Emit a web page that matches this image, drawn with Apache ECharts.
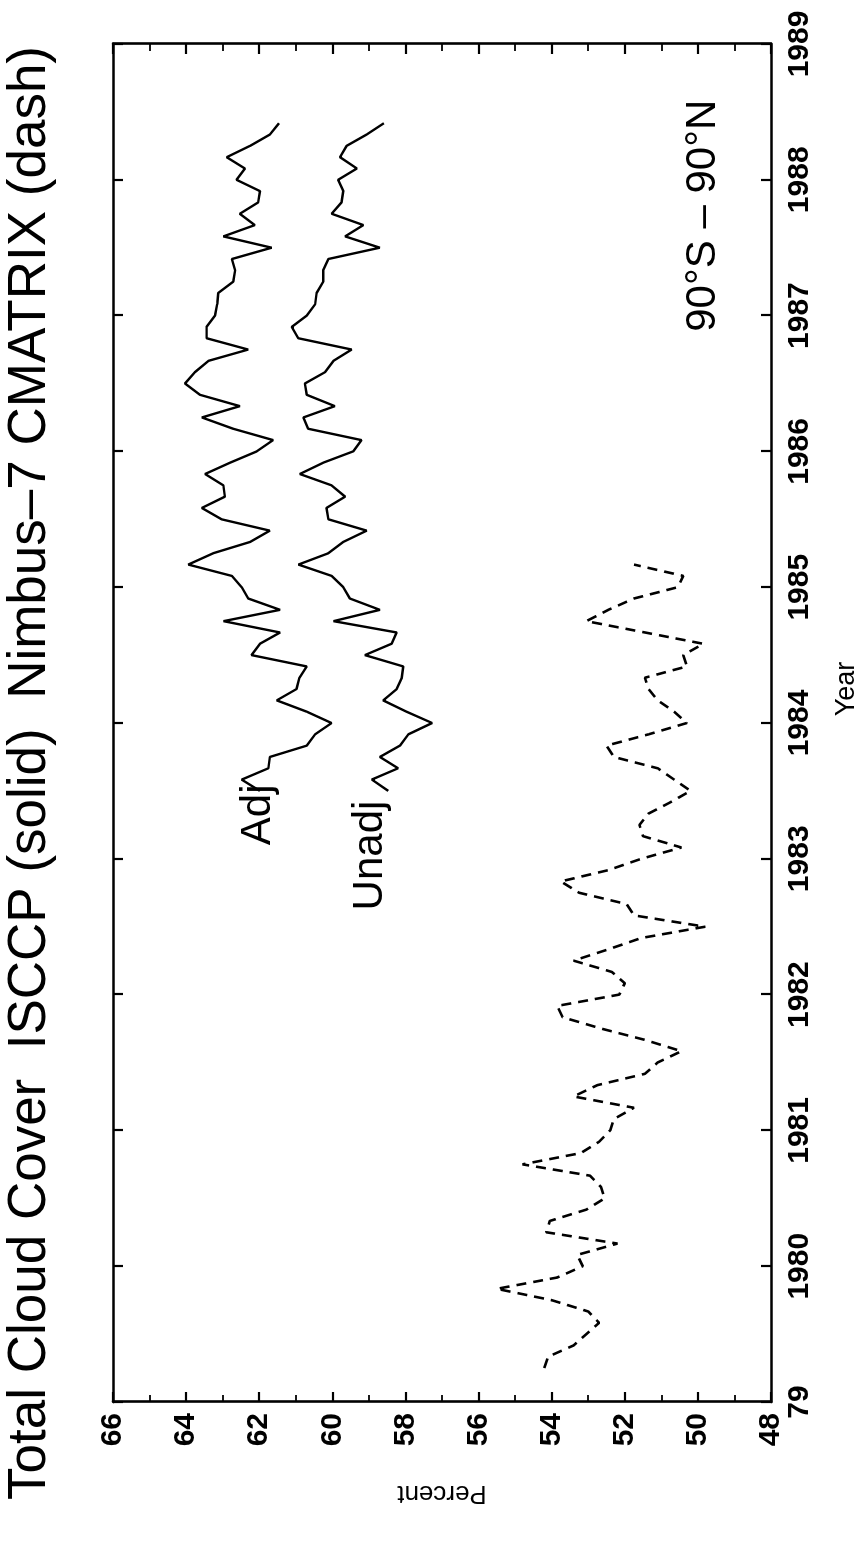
<!DOCTYPE html>
<html><head><meta charset="utf-8">
<script src="https://cdn.jsdelivr.net/npm/echarts@6/dist/echarts.min.js"></script>
<style>
html,body{margin:0;padding:0;width:867px;height:1545px;overflow:hidden;background:#fff;}
#chart{position:absolute;left:0;top:0;width:1545px;height:867px;transform-origin:0 0;transform:translate(0px,1545px) rotate(-90deg);}
</style></head><body><div id="chart"></div>
<script>
// ---- tick labels ----
const yearTicks = [1979,1980,1981,1982,1983,1984,1985,1986,1987,1988,1989];
const yearTickLabels = ['79','1980','1981','1982','1983','1984','1985','1986','1987','1988','1989'];
const percentTicks = [48,50,52,54,56,58,60,62,64,66];

// ---- Nimbus-7 CMATRIX (dashed), monthly from Apr 1979 ----
const nimbusStart = {year:1979, month:4};
const nimbus = [54.2,54.1,53.4,53.05,52.7,53.0,54.0,55.5,53.85,53.15,53.3,52.2,
  54.15,54.05,53.05,52.55,52.65,52.95,54.8,53.2,52.7,52.4,52.3,51.75,
  53.4,52.75,51.45,51.1,50.45,51.45,52.65,53.7,53.85,52.15,52.0,52.35,
  53.4,52.45,51.55,49.8,51.75,51.95,53.25,53.75,52.45,51.55,50.45,51.5,
  51.6,51.35,50.75,50.2,50.65,51.1,52.3,52.5,51.35,50.3,50.65,51.1,
  51.35,51.45,50.3,50.4,49.85,51.45,53.05,52.45,51.75,50.55,50.4,51.75];

// ---- ISCCP (solid), monthly from Jul 1983 ----
const isccpStart = {year:1983, month:7};
const isccpAdj = [61.98,62.48,61.75,61.71,60.70,60.47,60.02,60.70,61.52,60.98,60.90,60.70,
  62.21,61.98,61.43,62.98,61.43,62.30,62.48,62.75,63.94,63.26,62.25,61.71,
  63.03,63.57,62.94,62.98,63.48,62.80,62.07,61.62,62.71,63.57,62.53,63.62,
  64.03,63.76,63.39,62.30,63.44,63.44,63.21,63.15,63.12,62.71,62.66,62.75,
  61.66,62.98,62.12,62.53,62.03,61.98,62.62,62.39,62.89,62.25,61.71,61.46];
const isccpUnadj = [58.47,58.92,58.20,58.70,58.15,57.92,57.27,57.97,58.61,58.24,58.10,58.06,
  59.11,58.38,58.24,59.97,58.70,59.52,59.70,60.02,60.93,60.11,59.70,59.06,
  60.11,60.16,59.65,60.02,60.89,60.25,59.43,59.20,60.66,60.79,59.93,60.70,
  60.75,60.20,59.97,59.47,60.93,61.11,60.70,60.47,60.43,60.25,60.25,60.11,
  58.70,59.65,59.15,60.02,59.75,59.70,59.84,59.33,59.79,59.61,59.06,58.59];

const titleText = 'Total Cloud Cover  ISCCP (solid)  Nimbus\u20137 CMATRIX (dash)';
const yearName = 'Year';
const notes = [
  {text:'Adj', at:[1983.10, 62.03], align:'left'},
  {text:'Unadj', at:[1982.62, 58.97], align:'left'},
  {text:'90\u00b0S \u2013 90\u00b0N', at:[1988.59, 49.86], align:'right'}
];

function monthly(start, values){
  return values.map((v,i)=>[start.year + (start.month-1+i)/12, v]);
}

const FONT = '"Liberation Sans", Arial, Helvetica, sans-serif';
const BLACK = '#000';
const lineW = 2.6;

function xAxisCfg(pos, showLabels){
  return {
    type:'value', position:pos, min:1979, max:1989, interval:1,
    axisLine:{show:true, onZero:false, lineStyle:{color:BLACK, width:lineW}},
    axisTick:{show:true, inside:true, length:10, lineStyle:{color:BLACK, width:2.2}},
    splitLine:{show:false},
    axisLabel:{show:showLabels, margin:14, fontSize:30, fontWeight:'bold', color:BLACK, fontFamily:FONT,
      formatter:v=>{const i=yearTicks.indexOf(Math.round(v)); return i>=0?yearTickLabels[i]:'';}}
  };
}
function yAxisCfg(pos, showLabels){
  return {
    type:'value', position:pos, min:48, max:66, interval:2,
    axisLine:{show:true, onZero:false, lineStyle:{color:BLACK, width:lineW}},
    axisTick:{show:true, inside:true, length:10, lineStyle:{color:BLACK, width:2.2}},
    minorTick:{show:true, splitNumber:2, length:7, lineStyle:{color:BLACK, width:1.8}},
    splitLine:{show:false}, minorSplitLine:{show:false},
    axisLabel:{show:showLabels, margin:11, fontSize:30, fontWeight:'bold', color:BLACK, fontFamily:FONT},
    name: showLabels ? 'Percent' : '', nameLocation:'middle', nameGap:78,
    nameTextStyle:{fontSize:26, color:BLACK, fontFamily:FONT}
  };
}

const el = document.getElementById('chart');
const chart = echarts.init(el, null, {renderer:'canvas', width:1545, height:867});
const option = {
  animation:false,
  backgroundColor:'#fff',
  grid:{left:143, right:44, top:113, bottom:96, containLabel:false},
  xAxis:[xAxisCfg('bottom', true), xAxisCfg('top', false)],
  yAxis:[yAxisCfg('left', true), yAxisCfg('right', false)],
  series:[
    {type:'line', name:'Nimbus-7 CMATRIX', data:monthly(nimbusStart, nimbus), showSymbol:false,
      lineStyle:{color:BLACK, width:2.6, type:[10,7]}, silent:true},
    {type:'line', name:'ISCCP Adj', data:monthly(isccpStart, isccpAdj), showSymbol:false,
      lineStyle:{color:BLACK, width:2.4}, silent:true},
    {type:'line', name:'ISCCP Unadj', data:monthly(isccpStart, isccpUnadj), showSymbol:false,
      lineStyle:{color:BLACK, width:2.4}, silent:true}
  ]
};
chart.setOption(option);

const graphics = [{
  type:'text', x:772, y:4,
  style:{text:titleText, fontSize:53, fontFamily:FONT, fill:BLACK, align:'center', verticalAlign:'top'}
}];
// x-axis name, placed below the axis labels
const yn = chart.convertToPixel({gridIndex:0}, [1984.25, 48]);
graphics.push({type:'text', x:yn[0], y:yn[1] + 62,
  style:{text:yearName, fontSize:27, fontFamily:FONT, fill:BLACK, align:'center', verticalAlign:'top'}});
notes.forEach(n=>{
  const p = chart.convertToPixel({gridIndex:0}, n.at);
  graphics.push({type:'text', x:p[0], y:p[1],
    style:{text:n.text, fontSize:42, fontFamily:FONT, fill:BLACK, align:n.align, verticalAlign:'middle'}});
});
chart.setOption({graphic:graphics});
</script>
</body></html>
